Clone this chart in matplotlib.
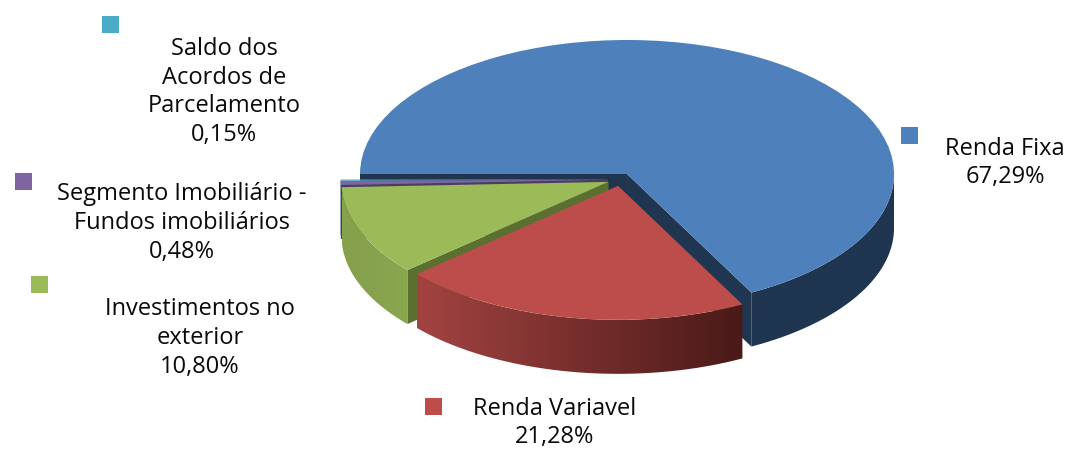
import numpy as np
import matplotlib
matplotlib.use('Agg')
import matplotlib.pyplot as plt
from matplotlib.colors import LinearSegmentedColormap
from matplotlib.patches import Polygon, Rectangle

plt.rcParams['font.family'] = ['Open Sans', 'DejaVu Sans']

categories = ['Renda Fixa', 'Renda Variavel', 'Investimentos no\nexterior',
              'Segmento Imobiliário -\nFundos imobiliários', 'Saldo dos\nAcordos de\nParcelamento']
values = [67.29, 21.28, 10.80, 0.48, 0.15]
colors = ['#4e80bc', '#bc4d4a', '#9bbb59', '#8064a2', '#4bacc6']
# cor da parede lateral (esquerda, direita) e da face do corte
wall_left = ['#1f3550', '#a34341', '#86a04c', '#4d3c62', '#2d6a7a']
wall_right = ['#1f3550', '#491a18', '#8aa64f', '#4d3c62', '#2d6a7a']
cut_color = ['#1f3550', '#5e2a28', '#5b7030', '#4d3c62', '#2d6a7a']

W, H = 1070, 450
cx, cy = 620.4, 179.5   # centro da pizza em pixels
rx, ry = 267, 134
depth = 54 / ry

# posicao do rotulo (centro, pixels) e do quadradinho da legenda
label_pos = [(1005, 163), (555, 423), (200, 338), (182, 223), (224, 92)]
square_pos = [(901, 127), (425, 398), (31, 276), (15, 173), (102, 16)]

fig = plt.figure(figsize=(W / 100, H / 100), dpi=100)
ax = fig.add_axes([0, 0, 1, 1])

wedges, _ = ax.pie(values, colors=colors, explode=[0.048] * len(values), startangle=180,
                   counterclock=False, radius=1, wedgeprops={'linewidth': 0})


def radial_face(i, x0, y0, angle, z):
    a = np.radians(angle)
    px, py = x0 + np.cos(a), y0 + np.sin(a)
    ax.add_patch(Polygon([(x0, y0), (px, py), (px, py - depth), (x0, y0 - depth)],
                         facecolor=cut_color[i], edgecolor='none', zorder=z))


def side_faces(i, wedge, z):
    x0, y0 = wedge.center
    t1, t2 = wedge.theta1, wedge.theta2

    # so aparecem os cortes voltados para quem olha
    if np.sin(np.radians(t1 - 90)) < 0:
        radial_face(i, x0, y0, t1, z)
    if np.sin(np.radians(t2 + 90)) < 0:
        radial_face(i, x0, y0, t2, z)

    # parede externa, so a metade da frente
    th = np.radians(np.linspace(t1, min(t2, 0), 200))
    xs = x0 + np.cos(th)
    ys = y0 + np.sin(th)
    outline = np.vstack([np.column_stack([xs, ys]),
                         np.column_stack([xs[::-1], ys[::-1] - depth])])
    wall = Polygon(outline, facecolor='none', edgecolor='none', zorder=z)
    ax.add_patch(wall)
    cmap = LinearSegmentedColormap.from_list('wall', [wall_left[i], wall_right[i]])
    grad = np.linspace(0, 1, 256).reshape(1, -1)
    im = ax.imshow(grad, cmap=cmap, aspect='auto', interpolation='bilinear', zorder=z,
                   extent=(xs.min(), xs.max(), ys.min() - depth, ys.max()))
    im.set_clip_path(wall)


# ordem de desenho: de tras para a frente
for z, i in enumerate([0, 4, 3, 2, 1]):
    side_faces(i, wedges[i], 2 * z + 1)
    wedges[i].set_zorder(2 * z + 2)

ax.set_aspect('auto')
ax.set_xlim(-cx / rx, (W - cx) / rx)
ax.set_ylim(-(H - cy) / ry, cy / ry)

for i in range(len(values)):
    pct = f'{values[i]:.2f}'.replace('.', ',') + '%'
    fig.text(label_pos[i][0] / W, 1 - label_pos[i][1] / H, categories[i] + '\n' + pct,
             ha='center', va='center', ma='center', fontsize=17, linespacing=1.27, color='#0a0a0a')
    sx, sy = square_pos[i]
    fig.add_artist(Rectangle((sx / W, 1 - (sy + 17) / H), 17 / W, 17 / H, transform=fig.transFigure,
                             facecolor=colors[i], edgecolor='none'))

fig.savefig('out.png', dpi=100)
